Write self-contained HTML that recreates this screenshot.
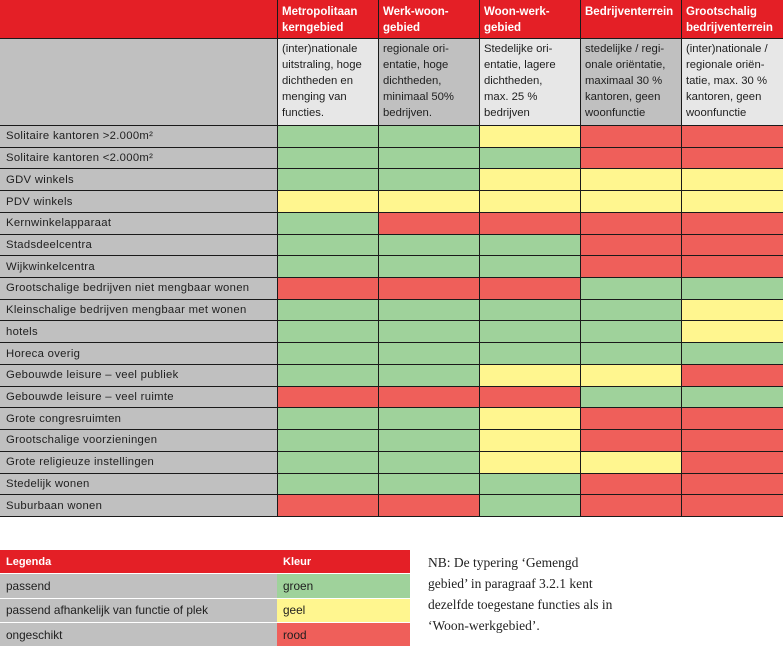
<!DOCTYPE html>
<html><head><meta charset="utf-8"><style>
*{margin:0;padding:0;box-sizing:border-box}
body{width:783px;height:646px;background:#fff;position:relative;overflow:hidden;font-family:"Liberation Sans",sans-serif;color:#1e1e1e}
.g{position:absolute;left:0;width:783px;display:grid;grid-template-columns:277px 100px 100px 100px 100px 102px;column-gap:1px;background:#1a1a1a}
#hd{top:0;height:38px;background:#1a1a1a}
#hd div{background:#e41f26;color:#fff;font-weight:bold;font-size:11.5px;line-height:16px;padding:4px 4px 0 4px}
#ds{top:38px;height:87px;border-top:1px solid #1a1a1a}
#ds div{font-size:11.3px;line-height:16px;padding:2px 4px 0 4px;white-space:nowrap}
#bd{top:125px;height:392px;grid-template-rows:repeat(18,1fr);row-gap:1px;padding:1px 0}
#bd div{font-size:11.3px;letter-spacing:0.3px;padding-left:6px;display:flex;align-items:center}
.a{background:#c0c0c0}.l{background:#e7e7e7}
.G{background:#9fd29b}.Y{background:#fff68f}.R{background:#ef5f5a}
#lg{position:absolute;left:0;top:550px;width:410px}
#lg .r{display:flex;height:24.3px;border-bottom:1px solid #fff}
#lg .r div{display:flex;align-items:center;padding-left:6px;font-size:11.8px}
#lg .r div:first-child{width:277px}#lg .r div:last-child{width:133px}
#lg .h div{background:#e41f26;color:#fff;font-weight:bold;font-size:11px}
#nb{position:absolute;left:428px;top:552px;font-family:"Liberation Serif",serif;font-size:13.5px;line-height:21px;color:#222}
</style></head><body>
<div class="g" id="hd"><div></div><div>Metropolitaan kerngebied</div><div>Werk-woon-<br>gebied</div><div>Woon-werk-<br>gebied</div><div>Bedrijventerrein</div><div>Grootschalig bedrijventerrein</div></div>
<div class="g" id="ds"><div class="a"></div><div class="l">(inter)nationale<br>uitstraling, hoge<br>dichtheden en<br>menging van<br>functies.</div><div class="a">regionale ori-<br>entatie, hoge<br>dichtheden,<br>minimaal 50%<br>bedrijven.</div><div class="l">Stedelijke ori-<br>entatie, lagere<br>dichtheden,<br>max. 25 %<br>bedrijven</div><div class="a">stedelijke / regi-<br>onale oriëntatie,<br>maximaal 30 %<br>kantoren, geen<br>woonfunctie</div><div class="l">(inter)nationale /<br>regionale oriën-<br>tatie, max. 30 %<br>kantoren, geen<br>woonfunctie</div></div>
<div class="g" id="bd">
<div class="a">Solitaire kantoren &gt;2.000m²</div><div class="G"></div><div class="G"></div><div class="Y"></div><div class="R"></div><div class="R"></div>
<div class="a">Solitaire kantoren &lt;2.000m²</div><div class="G"></div><div class="G"></div><div class="G"></div><div class="R"></div><div class="R"></div>
<div class="a">GDV winkels</div><div class="G"></div><div class="G"></div><div class="Y"></div><div class="Y"></div><div class="Y"></div>
<div class="a">PDV winkels</div><div class="Y"></div><div class="Y"></div><div class="Y"></div><div class="Y"></div><div class="Y"></div>
<div class="a">Kernwinkelapparaat</div><div class="G"></div><div class="R"></div><div class="R"></div><div class="R"></div><div class="R"></div>
<div class="a">Stadsdeelcentra</div><div class="G"></div><div class="G"></div><div class="G"></div><div class="R"></div><div class="R"></div>
<div class="a">Wijkwinkelcentra</div><div class="G"></div><div class="G"></div><div class="G"></div><div class="R"></div><div class="R"></div>
<div class="a">Grootschalige bedrijven niet mengbaar wonen</div><div class="R"></div><div class="R"></div><div class="R"></div><div class="G"></div><div class="G"></div>
<div class="a">Kleinschalige bedrijven mengbaar met wonen</div><div class="G"></div><div class="G"></div><div class="G"></div><div class="G"></div><div class="Y"></div>
<div class="a">hotels</div><div class="G"></div><div class="G"></div><div class="G"></div><div class="G"></div><div class="Y"></div>
<div class="a">Horeca overig</div><div class="G"></div><div class="G"></div><div class="G"></div><div class="G"></div><div class="G"></div>
<div class="a">Gebouwde leisure – veel publiek</div><div class="G"></div><div class="G"></div><div class="Y"></div><div class="Y"></div><div class="R"></div>
<div class="a">Gebouwde leisure – veel ruimte</div><div class="R"></div><div class="R"></div><div class="R"></div><div class="G"></div><div class="G"></div>
<div class="a">Grote congresruimten</div><div class="G"></div><div class="G"></div><div class="Y"></div><div class="R"></div><div class="R"></div>
<div class="a">Grootschalige voorzieningen</div><div class="G"></div><div class="G"></div><div class="Y"></div><div class="R"></div><div class="R"></div>
<div class="a">Grote religieuze instellingen</div><div class="G"></div><div class="G"></div><div class="Y"></div><div class="Y"></div><div class="R"></div>
<div class="a">Stedelijk wonen</div><div class="G"></div><div class="G"></div><div class="G"></div><div class="R"></div><div class="R"></div>
<div class="a">Suburbaan wonen</div><div class="R"></div><div class="R"></div><div class="G"></div><div class="R"></div><div class="R"></div>
</div>
<div id="lg">
<div class="r h"><div>Legenda</div><div>Kleur</div></div>
<div class="r"><div class="a">passend</div><div class="G">groen</div></div>
<div class="r"><div class="a">passend afhankelijk van functie of plek</div><div class="Y">geel</div></div>
<div class="r"><div class="a">ongeschikt</div><div class="R">rood</div></div>
</div>
<div id="nb">NB: De typering ‘Gemengd<br>gebied’ in paragraaf 3.2.1 kent<br>dezelfde toegestane functies als in<br>‘Woon-werkgebied’.</div>
</body></html>
